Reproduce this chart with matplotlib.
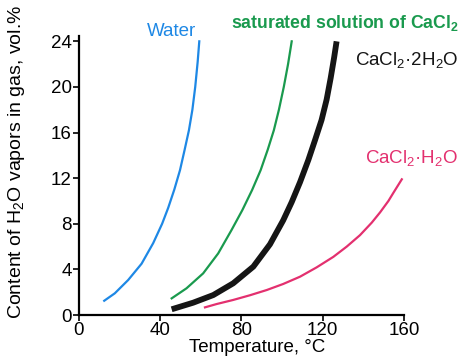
import matplotlib
matplotlib.use("Agg")
import matplotlib.pyplot as plt

plt.rcParams["font.family"] = ["Liberation Sans", "DejaVu Sans"]
plt.rcParams["mathtext.fontset"] = "custom"
plt.rcParams["mathtext.rm"] = "Liberation Sans"
plt.rcParams["mathtext.it"] = "Liberation Sans:italic"
plt.rcParams["mathtext.bf"] = "Liberation Sans:bold"

# values (temperature in deg C, H2O content in vol.%)
water_t = [12.5, 17.7, 24.3, 30.9, 36.6, 41.0, 44.0, 47.0, 49.8, 52.1, 54.2, 55.9, 57.3, 58.5, 59.3]
water_y = [1.25, 1.9, 3.07, 4.5, 6.3, 8.0, 9.4, 11.0, 12.7, 14.5, 16.2, 18.0, 20.0, 22.2, 24.0]

sat_t = [45.7, 53.0, 61.2, 68.6, 75.2, 80.5, 85.3, 89.5, 93.0, 96.0, 98.5, 100.9, 103.0, 104.8]
sat_y = [1.46, 2.34, 3.65, 5.4, 7.46, 9.2, 10.96, 12.7, 14.5, 16.2, 18.0, 20.0, 22.0, 24.0]

dihyd_t = [45.7, 56.3, 66.2, 76.0, 85.9, 94.1, 100.6, 104.8, 108.9, 113.0, 116.3, 119.5, 122.0, 124.0, 125.7, 126.9]
dihyd_y = [0.5, 1.08, 1.75, 2.78, 4.24, 6.2, 8.3, 9.9, 11.65, 13.6, 15.35, 17.1, 18.9, 20.8, 22.6, 24.0]

mono_t = [62.1, 67.8, 76.0, 84.2, 92.5, 100.6, 108.9, 117.1, 125.3, 131.9, 138.4, 144.2, 148.3, 152.4, 154.8, 159.0]
mono_y = [0.67, 0.96, 1.32, 1.73, 2.19, 2.72, 3.36, 4.18, 5.1, 6.0, 7.0, 8.1, 9.0, 10.0, 10.7, 11.9]

x_ticks = [0, 40, 80, 120, 160]
y_ticks = [0, 4, 8, 12, 16, 20, 24]

blue = "#1e88e5"
green = "#1a9a4e"
pink = "#e3306f"

fig = plt.figure(figsize=(4.61, 3.6), dpi=100)
ax = fig.add_axes([0.171, 0.125, 0.705, 0.776])

ax.plot(water_t, water_y, color=blue, lw=1.6, solid_joinstyle="round")
ax.plot(sat_t, sat_y, color=green, lw=1.6, solid_joinstyle="round")
ax.plot(dihyd_t, dihyd_y, color="#151515", lw=4.2, solid_capstyle="butt",
        solid_joinstyle="round")
ax.plot(mono_t, mono_y, color=pink, lw=1.6, solid_joinstyle="round")

ax.set_xlim(0, 160)
ax.set_ylim(0, 24.5)
ax.set_xticks(x_ticks)
ax.set_yticks(y_ticks)
ax.spines["top"].set_visible(False)
ax.spines["right"].set_visible(False)
ax.spines["left"].set_linewidth(1.6)
ax.spines["bottom"].set_linewidth(1.6)
ax.spines["bottom"].set_bounds(0, 160)
ax.tick_params(direction="out", length=4, width=1.2, labelsize=13.5, pad=1)

ax.set_xlabel("Temperature, °C", fontsize=13.5)
ax.set_ylabel("Content of H$_2$O vapors in gas, vol.%", fontsize=14)
ax.xaxis.set_label_coords(0.55, -0.085)
ax.yaxis.set_label_coords(-0.16, 0.548)

ax.text(45.8, 24.47, "Water", color=blue, fontsize=13.5, ha="center",
        va="baseline", clip_on=False)
ax.text(131.0, 25.15, r"saturated solution of CaCl$\mathbf{_2}$", color=green,
        fontsize=12.7, ha="center", va="baseline", fontweight="bold", clip_on=False)
ax.text(161.3, 21.93, "CaCl$_2$·2H$_2$O", color="#151515", fontsize=13.5,
        ha="center", va="baseline", clip_on=False)
ax.text(163.8, 13.33, "CaCl$_2$·H$_2$O", color=pink, fontsize=13.5,
        ha="center", va="baseline", clip_on=False)

fig.savefig("out.png", dpi=100)
